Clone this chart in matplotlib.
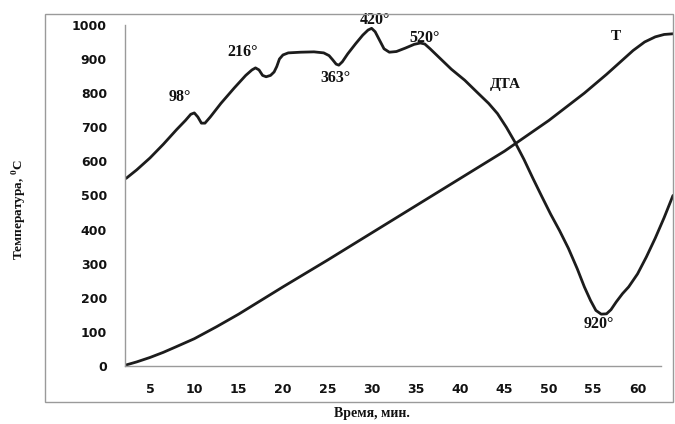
import matplotlib
matplotlib.use("Agg")
import matplotlib.pyplot as plt
from matplotlib.patches import Rectangle

# ---- data ----
dta_x = [2.3, 3.5, 5.0, 6.5, 8.0, 9.0, 9.6, 10.0, 10.4, 10.8, 11.2, 11.8, 13.0, 14.5,
         15.8, 16.5, 16.9, 17.3, 17.7, 18.1, 18.6, 19.0, 19.3, 19.6, 20.0, 20.6,
         22.0, 23.5, 24.6, 25.2, 25.6, 26.0, 26.3, 26.7, 27.3, 28.2, 29.0, 29.6,
         30.0, 30.4, 30.9, 31.4, 32.0, 32.8, 33.8, 34.8, 35.5, 36.0, 36.6,
         37.8, 39.0, 40.5, 42.0, 43.2, 44.2, 45.2, 46.2, 47.2, 48.2, 49.2, 50.2,
         51.2, 52.2, 53.2, 54.0, 54.7, 55.3, 55.9, 56.5, 57.0, 57.6, 58.3, 59.0,
         60.0, 61.0, 62.0, 63.0, 64.0]
dta_y = [550, 575, 610, 650, 693, 720, 738, 742, 730, 712, 712, 730, 770, 815,
         852, 868, 874, 868, 852, 848, 852, 862, 878, 900, 912, 918,
         920, 921, 918, 910, 898, 885, 882, 892, 915, 945, 970, 985,
         990, 980, 955, 930, 920, 922, 932, 943, 947, 944, 930,
         900, 870, 838, 800, 770, 740, 700, 655, 605, 550, 497, 445,
         397, 345, 285, 232, 192, 163, 152, 153, 165, 188, 212, 232,
         270, 320, 375, 435, 500]

t_x = [2.3, 3.5, 5.0, 6.5, 8.0, 10.0, 12.5, 15.0, 20.0, 25.0, 30.0, 35.0, 40.0,
       45.0, 50.0, 54.0, 56.5, 58.0, 59.5, 60.8, 62.0, 63.0, 64.0]
t_y = [3, 12, 25, 40, 57, 80, 115, 152, 232, 310, 390, 470, 550,
       630, 720, 800, 855, 890, 925, 950, 965, 972, 974]

x_ticks = [5, 10, 15, 20, 25, 30, 35, 40, 45, 50, 55, 60]
y_ticks = [0, 100, 200, 300, 400, 500, 600, 700, 800, 900, 1000]

peak_labels = ["98°", "216°", "363°", "420°", "520°", "920°"]
peak_x = [8.4, 15.4, 25.9, 30.4, 36.0, 55.6]
peak_y = [789, 921, 845, 1015, 962, 123]

curve_labels = ["ДТА", "Т"]
curve_lx = [45.1, 57.5]
curve_ly = [824, 965]

# ---- figure ----
W, H = 675, 424
fig = plt.figure(figsize=(W / 100, H / 100), dpi=100)
fig.patch.set_facecolor("white")

ax = fig.add_axes([125 / W, (H - 366) / H, 548 / W, 352 / H])
ax.set_xlim(2.18, 64.0)
ax.set_ylim(0, 1032)

line_color = "#1c1c1c"
ax.plot(dta_x, dta_y, color=line_color, lw=2.0, solid_joinstyle="round",
        solid_capstyle="round")
ax.plot(t_x, t_y, color=line_color, lw=2.0, solid_joinstyle="round",
        solid_capstyle="round")

for spine in ["top", "right"]:
    ax.spines[spine].set_visible(False)
ax.spines["left"].set_color("#9a9a9a")
ax.spines["bottom"].set_color("#9a9a9a")
ax.spines["left"].set_linewidth(1.0)
ax.spines["bottom"].set_linewidth(1.0)
ax.spines["left"].set_bounds(0, 1000)
ax.spines["bottom"].set_bounds(2.18, 62.6)

tick_font = dict(family="DejaVu Sans", weight="bold", size=9)
ax.set_xticks(x_ticks)
ax.set_xticklabels([str(v) for v in x_ticks], fontdict=tick_font, color="#111111")
ax.set_yticks(y_ticks)
ax.set_yticklabels([str(v) for v in y_ticks], fontdict=tick_font, color="#111111")
ax.tick_params(axis="x", length=0, pad=12)
ax.tick_params(axis="y", length=0, pad=13)

serif = dict(family="Liberation Serif", weight="bold", color="#111111")
for lab, x, y in zip(peak_labels, peak_x, peak_y):
    ax.text(x, y, lab, ha="center", va="center", fontsize=11.5, **serif)
for lab, x, y in zip(curve_labels, curve_lx, curve_ly):
    ax.text(x, y, lab, ha="center", va="center", fontsize=11, **serif)

# outer frame
fig.add_artist(Rectangle((45 / W, (H - 402) / H), (673 - 45) / W, (402 - 14) / H,
                         transform=fig.transFigure, fill=False,
                         edgecolor="#9a9a9a", lw=1.0))

plt.rcParams["mathtext.fontset"] = "custom"
plt.rcParams["mathtext.rm"] = "Liberation Serif:bold"
fig.text(20 / W, (H - 210) / H, "Температура, $^0$C", rotation=90,
         ha="center", va="center", fontsize=9.5, **serif)
fig.text(372 / W, (H - 414) / H, "Время, мин.", ha="center", va="center",
         fontsize=10, **serif)

fig.savefig("out.png", dpi=100)
